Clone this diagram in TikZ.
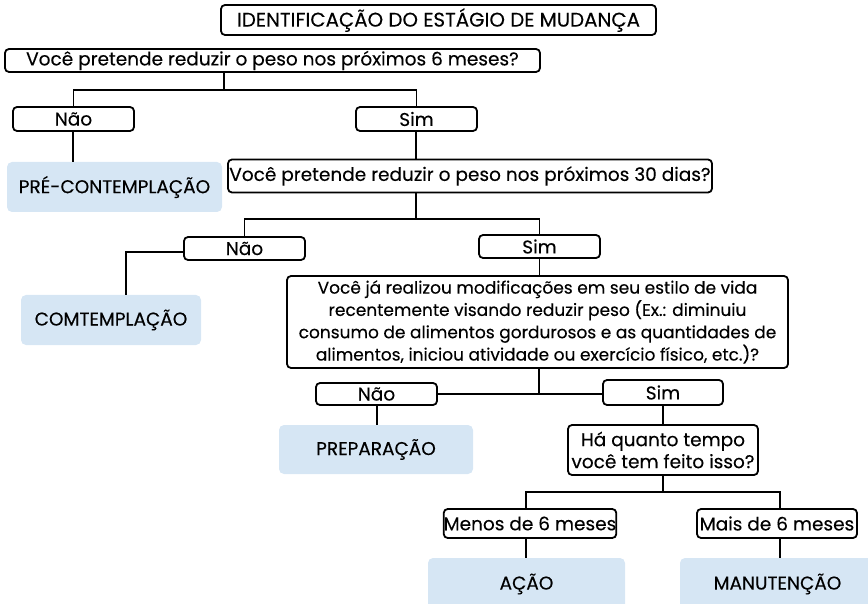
\documentclass[tikz,border=0pt]{standalone}
\usepackage{fontspec}
\setmainfont{Poppins}[UprightFeatures={FakeBold=0.25}]
\definecolor{stageblue}{HTML}{D6E6F4}
\begin{document}
\begin{tikzpicture}[x=1pt,y=-1pt,
  every node/.style={font=\fontsize{18.5}{22}\selectfont, inner sep=0pt},
  qbox/.style={draw=black, line width=1.8pt, rounded corners=4pt},
  stagebox/.style={fill=stageblue, rounded corners=5pt},
  conn/.style={line width=1.8pt}]
\useasboundingbox (0,0) rectangle (868,604);
\begin{scope}
\clip (0,0) rectangle (868,604);
% boxes
\node[qbox, minimum width=435pt, minimum height=30pt, font=\fontsize{19.8}{22}\selectfont] (title) at (438.5,20) {IDENTIFICAÇÃO DO ESTÁGIO DE MUDANÇA};
\node[qbox, minimum width=535pt, minimum height=23pt] (q1) at (272.5,60.5) {Você pretende reduzir o peso nos próximos 6 meses?};
\node[qbox, minimum width=121pt, minimum height=24pt] (nao1) at (73.5,119) {Não};
\node[qbox, minimum width=121pt, minimum height=24pt] (sim1) at (416.5,119) {Sim};
\node[stagebox, minimum width=215pt, minimum height=50pt] (pre) at (114.5,187) {PRÉ-CONTEMPLAÇÃO};
\node[qbox, minimum width=484pt, minimum height=33pt] (q2) at (470,176) {Você pretende reduzir o peso nos próximos 30 dias?};
\node[qbox, minimum width=121pt, minimum height=23pt] (nao2) at (244.5,248.5) {Não};
\node[qbox, minimum width=121pt, minimum height=23pt] (sim2) at (539.5,246.5) {Sim};
\node[stagebox, minimum width=180pt, minimum height=50pt] (comt) at (111,320) {COMTEMPLAÇÃO};
\node[qbox, minimum width=501pt, minimum height=92pt, align=center, font=\fontsize{17}{22.3}\selectfont] (q3) at (537.5,322) {Você já realizou modificações em seu estilo de vida\\recentemente visando reduzir peso (Ex.: diminuiu\\consumo de alimentos gordurosos e as quantidades de\\alimentos, iniciou atividade ou exercício físico, etc.)?};
\node[qbox, minimum width=121pt, minimum height=22pt] (nao3) at (376.5,394) {Não};
\node[qbox, minimum width=120pt, minimum height=25pt] (sim3) at (663,392.5) {Sim};
\node[stagebox, minimum width=194pt, minimum height=49pt] (prep) at (376,449.5) {PREPARAÇÃO};
\node[qbox, minimum width=190pt, minimum height=50pt, align=center, font=\fontsize{18.5}{22}\selectfont] (q4) at (663,450) {Há quanto tempo\\você tem feito isso?};
\node[qbox, minimum width=170pt, minimum height=29pt] (menos) at (530,523.5) {Menos de 6 meses};
\node[qbox, minimum width=160pt, minimum height=29pt] (mais) at (777,523.5) {Mais de 6 meses};
\node[stagebox, minimum width=197pt, minimum height=52pt] (acao) at (526.5,584) {AÇÃO};
\node[stagebox, minimum width=195pt, minimum height=52pt] (manut) at (777.5,584) {MANUTENÇÃO};
% junction coordinates
\coordinate (j1) at (224,90);
\coordinate (j2) at (416,219);
\coordinate (j3) at (539,394);
\coordinate (j4) at (663,492);
\coordinate (c2) at (126,252);
\coordinate (p1) at (73,0);
\coordinate (p2) at (377,0);
\coordinate (p3) at (526,0);
\coordinate (p4) at (780,0);
% connectors
\draw[conn] (j1 |- q1.south) -- (j1);
\draw[conn] (nao1.north) -- (nao1.north |- j1) -- (sim1.north |- j1) -- (sim1.north);
\draw[conn] (p1 |- nao1.south) -- (p1 |- pre.north);
\draw[conn] (j2 |- sim1.south) -- (j2 |- q2.north);
\draw[conn] (j2 |- q2.south) -- (j2);
\draw[conn] (nao2.north) -- (nao2.north |- j2) -- (sim2.north |- j2) -- (sim2.north);
\draw[conn] (nao2.west |- c2) -- (c2) -- (c2 |- comt.north);
\draw[conn] (sim2.south) -- (sim2.south |- q3.north);
\draw[conn] (j3 |- q3.south) -- (j3);
\draw[conn] (nao3.east) -- (sim3.west |- nao3.east);
\draw[conn] (p2 |- nao3.south) -- (p2 |- prep.north);
\draw[conn] (sim3.south) -- (sim3.south |- q4.north);
\draw[conn] (j4 |- q4.south) -- (j4);
\draw[conn] (p3 |- menos.north) -- (p3 |- j4) -- (p4 |- j4) -- (p4 |- mais.north);
\draw[conn] (p3 |- menos.south) -- (p3 |- acao.north);
\draw[conn] (p4 |- mais.south) -- (p4 |- manut.north);
\end{scope}
\end{tikzpicture}
\end{document}
